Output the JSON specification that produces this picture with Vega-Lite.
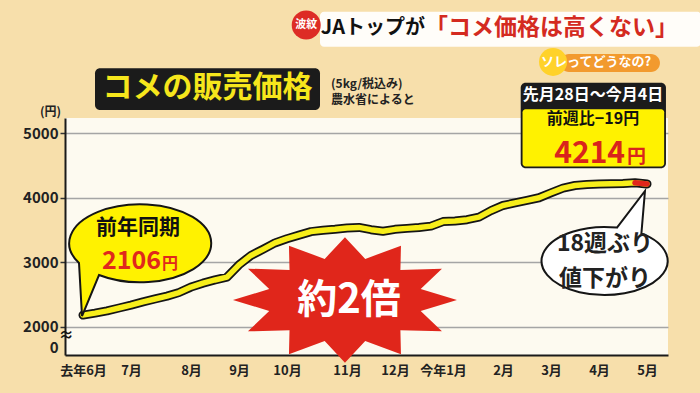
{
  "$schema": "https://vega.github.io/schema/vega-lite/v6.json",
  "autosize": {"type": "none"},
  "width": 603,
  "height": 237,
  "padding": {"left": 65, "top": 118, "right": 32, "bottom": 38},
  "background": "#f7dfab",
  "view": {"fill": "#fdfaf0", "stroke": null},
  "config": {
    "font": "Noto Sans CJK JP",
    "text": {"font": "Noto Sans CJK JP", "fontWeight": "bold"},
    "axis": {"labelFont": "Noto Sans CJK JP", "titleFont": "Noto Sans CJK JP"}
  },
  "datasets": {
    "price": [
      {"week_of": "2024-06-03", "w": 0, "p": 2180},
      {"week_of": "2024-06-10", "w": 1, "p": 2210},
      {"week_of": "2024-06-17", "w": 2, "p": 2245},
      {"week_of": "2024-06-24", "w": 3, "p": 2290},
      {"week_of": "2024-07-01", "w": 4, "p": 2335},
      {"week_of": "2024-07-08", "w": 5, "p": 2385},
      {"week_of": "2024-07-15", "w": 6, "p": 2430},
      {"week_of": "2024-07-22", "w": 7, "p": 2475},
      {"week_of": "2024-07-29", "w": 8, "p": 2530},
      {"week_of": "2024-08-05", "w": 9, "p": 2615},
      {"week_of": "2024-08-12", "w": 10, "p": 2675},
      {"week_of": "2024-08-19", "w": 11, "p": 2725},
      {"week_of": "2024-08-26", "w": 12, "p": 2770},
      {"week_of": "2024-09-02", "w": 13, "p": 2960},
      {"week_of": "2024-09-09", "w": 14, "p": 3105},
      {"week_of": "2024-09-16", "w": 15, "p": 3200},
      {"week_of": "2024-09-23", "w": 16, "p": 3300},
      {"week_of": "2024-09-30", "w": 17, "p": 3365},
      {"week_of": "2024-10-07", "w": 18, "p": 3420},
      {"week_of": "2024-10-14", "w": 19, "p": 3475},
      {"week_of": "2024-10-21", "w": 20, "p": 3495},
      {"week_of": "2024-10-28", "w": 21, "p": 3510},
      {"week_of": "2024-11-04", "w": 22, "p": 3530},
      {"week_of": "2024-11-11", "w": 23, "p": 3540},
      {"week_of": "2024-11-18", "w": 24, "p": 3505},
      {"week_of": "2024-11-25", "w": 25, "p": 3480},
      {"week_of": "2024-12-02", "w": 26, "p": 3510},
      {"week_of": "2024-12-09", "w": 27, "p": 3525},
      {"week_of": "2024-12-16", "w": 28, "p": 3540},
      {"week_of": "2024-12-23", "w": 29, "p": 3560},
      {"week_of": "2024-12-30", "w": 30, "p": 3630},
      {"week_of": "2025-01-06", "w": 31, "p": 3640},
      {"week_of": "2025-01-13", "w": 32, "p": 3660},
      {"week_of": "2025-01-20", "w": 33, "p": 3700},
      {"week_of": "2025-01-27", "w": 34, "p": 3800},
      {"week_of": "2025-02-03", "w": 35, "p": 3880},
      {"week_of": "2025-02-10", "w": 36, "p": 3920},
      {"week_of": "2025-02-17", "w": 37, "p": 3960},
      {"week_of": "2025-02-24", "w": 38, "p": 4000},
      {"week_of": "2025-03-03", "w": 39, "p": 4077},
      {"week_of": "2025-03-10", "w": 40, "p": 4150},
      {"week_of": "2025-03-17", "w": 41, "p": 4190},
      {"week_of": "2025-03-24", "w": 42, "p": 4206},
      {"week_of": "2025-03-31", "w": 43, "p": 4214},
      {"week_of": "2025-04-07", "w": 44, "p": 4217},
      {"week_of": "2025-04-14", "w": 45, "p": 4220},
      {"week_of": "2025-04-21", "w": 46, "p": 4233},
      {"week_of": "2025-04-28", "w": 47, "p": 4214}
    ]
  },
  "encoding": {
    "x": {
      "field": "w",
      "type": "quantitative",
      "scale": {"domain": [-1.5, 48.75], "nice": false, "zero": false},
      "axis": {
        "title": null,
        "values": [0, 4, 9, 13, 17, 22, 26, 30, 35, 39, 43, 47],
        "labelExpr": "['去年6月','7月','8月','9月','10月','11月','12月','今年1月','2月','3月','4月','5月'][indexof([0,4,9,13,17,22,26,30,35,39,43,47], datum.value)]",
        "ticks": false,
        "grid": false,
        "labelPadding": 9,
        "labelFontSize": 13,
        "labelFontWeight": "bold",
        "labelColor": "#222222",
        "labelOverlap": false,
        "labelFlush": false,
        "domainColor": "#1a1a1a",
        "domainWidth": 2
      }
    },
    "y": {
      "field": "p",
      "type": "quantitative",
      "scale": {"domain": [1561, 5237], "nice": false, "zero": false},
      "axis": {
        "title": "(円)",
        "titleAngle": 0,
        "titleAlign": "center",
        "titleBaseline": "middle",
        "titleX": -15,
        "titleY": -7,
        "titleFontSize": 12,
        "titleFontWeight": "bold",
        "titleColor": "#222222",
        "values": [1670, 2000, 3000, 4000, 5000],
        "format": "d",
        "labelExpr": "datum.value < 1900 ? '0' : datum.label",
        "labelFontSize": 15,
        "labelFontWeight": "bold",
        "labelColor": "#222222",
        "labelPadding": 2,
        "tickSize": 5,
        "tickWidth": 1.5,
        "tickColor": {"condition": {"test": "datum.value < 1900", "value": "rgba(0,0,0,0)"}, "value": "#333333"},
        "domainColor": "#1a1a1a",
        "domainWidth": 2,
        "grid": true,
        "gridColor": {"condition": {"test": "datum.value < 1900", "value": "rgba(0,0,0,0)"}, "value": "#a5a5a5"},
        "gridWidth": 1.5
      }
    }
  },
  "layer": [
    {
      "data": {"values": [
        {"item": "banner", "w": 19.75, "w2": 51.5, "p": 6886, "p2": 6343}
      ]},
      "mark": {"type": "rect", "fill": "#ffffff", "opacity": 0.92, "cornerRadius": 4},
      "encoding": {"x2": {"field": "w2"}, "y2": {"field": "p2"}}
    },
    {
      "data": {"values": [
        {"item": "title box", "w": 1.0, "w2": 19.75, "p": 6008, "p2": 5361},
        {"item": "info box", "w": 36.475, "w2": 48.58, "p": 5785, "p2": 4457}
      ]},
      "mark": {"type": "rect", "fill": "#1b1b1b", "cornerRadius": 5},
      "encoding": {"x2": {"field": "w2"}, "y2": {"field": "p2"}}
    },
    {
      "data": {"values": [
        {"item": "info inner", "w": 36.63, "w2": 48.43, "p": 5372, "p2": 4485}
      ]},
      "mark": {"type": "rect", "fill": "#fff200", "cornerRadius": 3},
      "encoding": {"x2": {"field": "w2"}, "y2": {"field": "p2"}}
    },
    {
      "data": {"values": [
        {"item": "pill", "w": 39.75, "w2": 48.08, "p": 6230, "p2": 5951}
      ]},
      "mark": {"type": "rect", "fill": "#f29a2e", "cornerRadius": 9},
      "encoding": {"x2": {"field": "w2"}, "y2": {"field": "p2"}}
    },
    {
      "data": {"values": [{"item": "波紋", "w": 18.6, "p": 6680}]},
      "mark": {"type": "point", "shape": "circle", "filled": true, "fill": "#dd2c25", "stroke": null, "size": 841, "opacity": 1}
    },
    {
      "data": {"values": [{"item": "ソレ", "w": 39.17, "p": 6106}]},
      "mark": {"type": "point", "shape": "circle", "filled": true, "fill": "#ffd22a", "stroke": null, "size": 784, "opacity": 1}
    },
    {
      "data": {"values": [{"item": "burst", "w": 21.83, "p": 2414}]},
      "mark": {
        "type": "point",
        "shape": "M 1 0 L 0.676 0.098 L 0.866 0.28 L 0.495 0.269 L 0.5 0.485 L 0.181 0.367 L 0 0.56 L -0.181 0.367 L -0.5 0.485 L -0.495 0.269 L -0.866 0.28 L -0.676 0.098 L -1 0 L -0.676 -0.098 L -0.866 -0.28 L -0.495 -0.269 L -0.5 -0.485 L -0.181 -0.367 L 0 -0.56 L 0.181 -0.367 L 0.5 -0.485 L 0.495 -0.269 L 0.866 -0.28 L 0.676 -0.098 Z",
        "size": 50176,
        "filled": true,
        "fill": "#e0261b",
        "stroke": null,
        "opacity": 1
      }
    },
    {
      "data": {"name": "price"},
      "mark": {"type": "line", "color": "#151515", "strokeWidth": 9, "strokeCap": "round", "strokeJoin": "round"}
    },
    {
      "data": {"name": "price"},
      "mark": {"type": "line", "color": "#f7ee1a", "strokeWidth": 5.5, "strokeCap": "round", "strokeJoin": "round"}
    },
    {
      "data": {"name": "price"},
      "transform": [{"filter": "datum.w >= 46"}],
      "mark": {"type": "line", "color": "#e0261b", "strokeWidth": 5.5, "strokeCap": "round", "strokeJoin": "round"}
    },
    {
      "data": {"values": [{"item": "前年同期 bubble", "w": 4.667, "p": 3298}]},
      "mark": {
        "type": "point",
        "shape": "M -0.75 0.25 L -0.7125 0.9125 L -0.5 0.4 A 0.8875 0.4875 0 1 0 -0.75 0.25 Z",
        "size": 25600,
        "filled": true,
        "fill": "#fff200",
        "stroke": "#151515",
        "strokeWidth": 2,
        "opacity": 1
      }
    },
    {
      "data": {"values": [{"item": "18週ぶり bubble", "w": 43.5, "p": 3019}]},
      "mark": {
        "type": "point",
        "shape": "M 0.171 -0.477 L 0.571 -1 L 0.52 -0.395 A 0.9 0.486 0 1 1 0.171 -0.477 Z",
        "size": 19600,
        "filled": true,
        "fill": "#ffffff",
        "stroke": "#151515",
        "strokeWidth": 2,
        "opacity": 1
      }
    },
    {
      "data": {"values": [{"w": 10.375, "p": 5698, "t": "コメの販売価格"}]},
      "mark": {"type": "text", "fontSize": 30, "color": "#f6e61c", "align": "center", "baseline": "middle"},
      "encoding": {"text": {"field": "t"}}
    },
    {
      "data": {"values": [
        {"w": 20.67, "p": 5764, "t": "(5kg/税込み)"},
        {"w": 20.67, "p": 5516, "t": "農水省によると"}
      ]},
      "mark": {"type": "text", "fontSize": 12, "color": "#222222", "align": "left", "baseline": "middle"},
      "encoding": {"text": {"field": "t"}}
    },
    {
      "data": {"values": [{"w": 18.6, "p": 6680, "t": "波紋"}]},
      "mark": {"type": "text", "fontSize": 11, "color": "#ffffff", "align": "center", "baseline": "middle"},
      "encoding": {"text": {"field": "t"}}
    },
    {
      "data": {"values": [{"w": 28.5, "p": 6628, "t": "JAトップが"}]},
      "mark": {"type": "text", "fontSize": 20, "color": "#111111", "align": "right", "baseline": "middle"},
      "encoding": {"text": {"field": "t"}}
    },
    {
      "data": {"values": [{"w": 49.58, "p": 6628, "t": "「コメ価格は高くない」"}]},
      "mark": {"type": "text", "fontSize": 23, "color": "#d42a20", "align": "right", "baseline": "middle"},
      "encoding": {"text": {"field": "t"}}
    },
    {
      "data": {"values": [{"w": 38.17, "p": 6106, "t": "ソレってどうなの?"}]},
      "mark": {"type": "text", "fontSize": 13, "color": "#ffffff", "align": "left", "baseline": "middle"},
      "encoding": {"text": {"field": "t"}}
    },
    {
      "data": {"values": [{"w": 42.5, "p": 5586, "t": "先月28日～今月4日"}]},
      "mark": {"type": "text", "fontSize": 16, "color": "#ffffff", "align": "center", "baseline": "middle"},
      "encoding": {"text": {"field": "t"}}
    },
    {
      "data": {"values": [{"w": 42.5, "p": 5215, "t": "前週比−19円"}]},
      "mark": {"type": "text", "fontSize": 16, "color": "#111111", "align": "center", "baseline": "middle"},
      "encoding": {"text": {"field": "t"}}
    },
    {
      "data": {"values": [{"w": 45.17, "p": 4545, "t": "4214"}]},
      "mark": {"type": "text", "fontSize": 30, "color": "#d9241c", "align": "right", "baseline": "alphabetic"},
      "encoding": {"text": {"field": "t"}}
    },
    {
      "data": {"values": [{"w": 45.33, "p": 4545, "t": "円"}]},
      "mark": {"type": "text", "fontSize": 19, "color": "#d9241c", "align": "left", "baseline": "alphabetic"},
      "encoding": {"text": {"field": "t"}}
    },
    {
      "data": {"values": [{"w": 4.583, "p": 3535, "t": "前年同期"}]},
      "mark": {"type": "text", "fontSize": 21, "color": "#111111", "align": "center", "baseline": "middle"},
      "encoding": {"text": {"field": "t"}}
    },
    {
      "data": {"values": [{"w": 6.5, "p": 2895, "t": "2106"}]},
      "mark": {"type": "text", "fontSize": 25, "color": "#e0281c", "align": "right", "baseline": "alphabetic"},
      "encoding": {"text": {"field": "t"}}
    },
    {
      "data": {"values": [{"w": 6.583, "p": 2895, "t": "円"}]},
      "mark": {"type": "text", "fontSize": 16, "color": "#e0281c", "align": "left", "baseline": "alphabetic"},
      "encoding": {"text": {"field": "t"}}
    },
    {
      "data": {"values": [{"w": 22.17, "p": 2399, "t": "約2倍"}]},
      "mark": {"type": "text", "fontSize": 40, "color": "#ffffff", "align": "center", "baseline": "middle"},
      "encoding": {"text": {"field": "t"}}
    },
    {
      "data": {"values": [
        {"w": 43.5, "p": 3275, "t": "18週ぶり"},
        {"w": 43.5, "p": 2745, "t": "値下がり"}
      ]},
      "mark": {"type": "text", "fontSize": 23, "color": "#222222", "align": "center", "baseline": "middle"},
      "encoding": {"text": {"field": "t"}}
    },
    {
      "data": {"values": [{"w": -1.4, "p": 1870, "t": "≈"}]},
      "mark": {"type": "text", "fontSize": 15, "color": "#111111", "align": "center", "baseline": "middle"},
      "encoding": {"text": {"field": "t"}}
    }
  ]
}
